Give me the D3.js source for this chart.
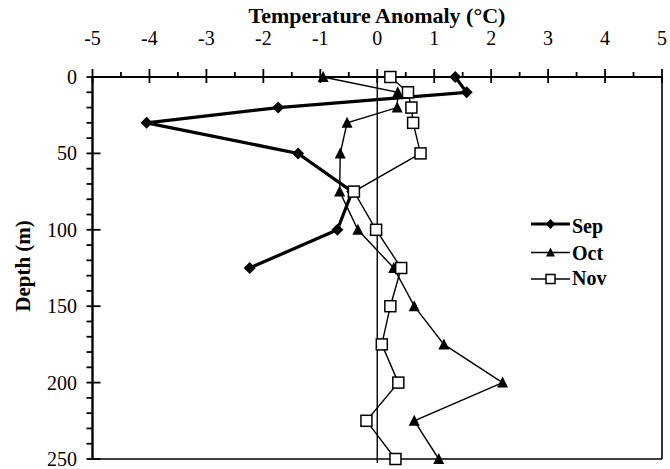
<!DOCTYPE html>
<html>
<head>
<meta charset="utf-8">
<script src="https://cdn.jsdelivr.net/npm/d3@7"></script>
<style>
  html, body { margin: 0; padding: 0; background: #fff; }
  svg { display: block; }
  text { font-family: "Liberation Serif", "Times New Roman", serif; fill: #000; }
</style>
</head>
<body>
<svg id="chart" width="670" height="469"></svg>
<script>
// Temperature anomaly profiles by depth
const depthsSep = [0, 10, 20, 30, 50, 75, 100, 125];
const sepValues = [1.37, 1.57, -1.74, -4.05, -1.39, -0.44, -0.70, -2.24];

const depthsOct = [0, 10, 20, 30, 50, 75, 100, 125, 150, 175, 200, 225, 250];
const octValues = [-0.95, 0.36, 0.35, -0.53, -0.65, -0.66, -0.34, 0.29, 0.65, 1.17, 2.20, 0.65, 1.08];

const depthsNov = [0, 10, 20, 30, 50, 75, 100, 125, 150, 175, 200, 225, 250];
const novValues = [0.23, 0.54, 0.60, 0.63, 0.76, -0.41, -0.02, 0.42, 0.23, 0.08, 0.37, -0.19, 0.32];

const xTicks = [-5, -4, -3, -2, -1, 0, 1, 2, 3, 4, 5];
const yTicks = [0, 50, 100, 150, 200, 250];
const seriesNames = ["Sep", "Oct", "Nov"];

const svg = d3.select("#chart");
const x = d3.scaleLinear().domain([-5, 5]).range([92.5, 662]);
const y = d3.scaleLinear().domain([0, 250]).range([77, 459]);

// frame (right and bottom)
svg.append("line").attr("x1", x(5)).attr("x2", x(5)).attr("y1", y(0)).attr("y2", y(250))
  .attr("stroke", "#000").attr("stroke-width", 1.6);
svg.append("line").attr("x1", x(-5)).attr("x2", x(5)).attr("y1", y(250)).attr("y2", y(250))
  .attr("stroke", "#000").attr("stroke-width", 1.6);

// zero line
svg.append("line").attr("x1", x(0)).attr("x2", x(0)).attr("y1", y(0)).attr("y2", y(250) + 4)
  .attr("stroke", "#000").attr("stroke-width", 1.4);

// top axis
const topAxis = svg.append("g");
topAxis.append("line").attr("x1", x(-5)).attr("x2", x(5)).attr("y1", y(0)).attr("y2", y(0))
  .attr("stroke", "#000").attr("stroke-width", 2.2);
d3.range(-5, 5.01, 0.5).forEach(v => {
  const major = Math.abs(v - Math.round(v)) < 1e-6;
  topAxis.append("line").attr("x1", x(v)).attr("x2", x(v))
    .attr("y1", major ? y(0) - 8 : y(0) - 5).attr("y2", major ? y(0) + 6 : y(0))
    .attr("stroke", "#000").attr("stroke-width", 1.8);
});
topAxis.selectAll("text.xt").data(xTicks).join("text")
  .attr("class", "xt").attr("x", d => x(d)).attr("y", 45)
  .attr("text-anchor", "middle").attr("font-size", 20).text(d => d);

// left axis
const leftAxis = svg.append("g");
leftAxis.append("line").attr("x1", x(-5)).attr("x2", x(-5)).attr("y1", y(0)).attr("y2", y(250))
  .attr("stroke", "#000").attr("stroke-width", 2.4);
d3.range(0, 251, 10).forEach(v => {
  const major = v % 50 === 0;
  leftAxis.append("line").attr("x1", x(-5) - 6).attr("x2", major ? x(-5) + 8 : x(-5))
    .attr("y1", y(v)).attr("y2", y(v))
    .attr("stroke", "#000").attr("stroke-width", 1.8);
});
leftAxis.selectAll("text.yt").data(yTicks).join("text")
  .attr("class", "yt").attr("x", 77).attr("y", d => y(d) + 7)
  .attr("text-anchor", "end").attr("font-size", 20).text(d => d);

// axis titles
svg.append("text").attr("x", 377).attr("y", 23).attr("text-anchor", "middle")
  .attr("font-size", 22).attr("font-weight", "bold").text("Temperature Anomaly (°C)");
svg.append("text").attr("transform", "translate(29.5,266) rotate(-90)")
  .attr("text-anchor", "middle").attr("font-size", 21).attr("font-weight", "bold").text("Depth (m)");

// marker shapes
function drawSep(g, px, py, s = 1) {
  g.append("path").attr("d", `M0,${-6 * s}L${6 * s},0L0,${6 * s}L${-6 * s},0Z`)
    .attr("transform", `translate(${px},${py})`).attr("fill", "#000");
}
function drawOct(g, px, py, s = 1) {
  g.append("path").attr("d", `M0,${-6 * s}L${5.5 * s},${5 * s}L${-5.5 * s},${5 * s}Z`)
    .attr("transform", `translate(${px},${py})`).attr("fill", "#000");
}
function drawNov(g, px, py, s = 1) {
  const h = 5.5 * s;
  g.append("rect").attr("x", px - h).attr("y", py - h).attr("width", 2 * h).attr("height", 2 * h)
    .attr("fill", "#fff").attr("stroke", "#000").attr("stroke-width", 1.5);
}

// series, drawn in order so later months sit on top
const line = d3.line().x(d => x(d[1])).y(d => y(d[0]));
const series = [
  { depths: depthsSep, values: sepValues, width: 3.2, marker: drawSep },
  { depths: depthsOct, values: octValues, width: 1.4, marker: drawOct },
  { depths: depthsNov, values: novValues, width: 1.4, marker: drawNov }
];
series.forEach(s => {
  const pts = s.depths.map((d, i) => [d, s.values[i]]);
  const g = svg.append("g");
  g.append("path").datum(pts).attr("d", line).attr("fill", "none")
    .attr("stroke", "#000").attr("stroke-width", s.width).attr("stroke-linejoin", "miter");
  pts.forEach(p => s.marker(g, x(p[1]), y(p[0])));
});

// legend
const legend = svg.append("g");
const legY = [224, 252.5, 279];
const legBase = [233, 259.5, 285];
seriesNames.forEach((name, i) => {
  legend.append("line").attr("x1", 531).attr("x2", 570).attr("y1", legY[i]).attr("y2", legY[i])
    .attr("stroke", "#000").attr("stroke-width", series[i].width);
  series[i].marker(legend, 550.5, legY[i], 0.82);
  legend.append("text").attr("x", 572).attr("y", legBase[i]).attr("font-size", 20)
    .attr("font-weight", "bold").text(name);
});
</script>
</body>
</html>
